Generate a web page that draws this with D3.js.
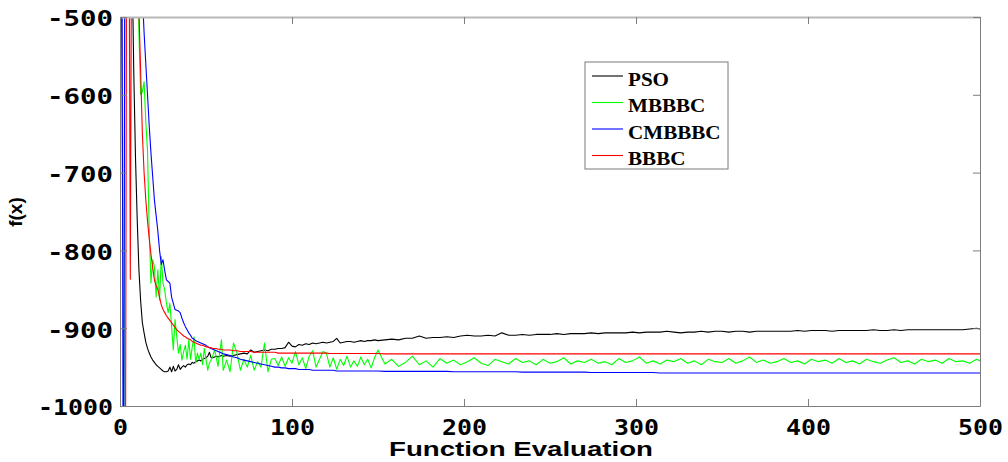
<!DOCTYPE html>
<html>
<head>
<meta charset="utf-8">
<script src="https://cdn.jsdelivr.net/npm/d3@7/dist/d3.min.js"></script>
<style>
  html, body { margin: 0; padding: 0; background: #ffffff; }
  svg { display: block; }
</style>
</head>
<body>
<svg id="chart" width="1008" height="462"></svg>
<script>
// Function-evaluation counter (dense early, coarser once the runs settle)
const evaluations = [
  0,1,2,3,4,5,6,7,8,9,
  10,11,12,13,14,15,16,17,18,19,
  20,21,22,23,24,25,26,27,28,29,
  30,31,32,33,34,35,36,37,38,39,
  40,41,42,43,44,45,46,47,48,49,
  50,51,52,53,54,55,56,57,58,59,
  60,
  62,64,66,68,70,72,74,76,78,80,
  82,84,86,88,90,92,94,96,98,100,
  102,104,106,108,110,112,114,116,118,120,
  122,124,126,128,130,132,134,136,138,140,
  142,144,146,148,150,
  154,158,162,166,170,174,178,182,186,190,
  194,198,202,206,210,214,218,222,226,230,
  234,238,242,246,250,254,258,262,266,270,
  274,278,282,286,290,294,298,302,306,310,
  314,318,322,326,330,334,338,342,346,350,
  354,358,362,366,370,374,378,382,386,390,
  394,398,402,406,410,414,418,422,426,430,
  434,438,442,446,450,454,458,462,466,470,
  474,478,482,486,490,494,498,500
];

// Best f(x) found so far by each optimiser
const psoValues = [
  -200,-200,-200,-200,-200,-200,-200,-420,-570,-680,
  -760,-825,-865,-893,-906,-918,-926,-932,-937,-941,
  -944,-947,-949,-951,-953,-955,-956,-956,-955,-950,
  -956,-949,-955,-953,-947,-953,-950,-948,-950,-947,
  -946,-947,-944,-945,-943,-942,-941,-942,-940,-939,
  -938,-936,-931,-938,-938,-937,-936,-937,-936,-935,
  -936,
  -935,-936,-935,-934,-933,-932,-933,-928,-931,-930,
  -929,-928,-929,-927,-927,-926,-926,-925,-918,-923,
  -924,-921,-922,-920,-921,-919,-920,-919,-918,-919,
  -918,-917,-913,-919,-918,-917,-917,-918,-917,-916,
  -917,-916,-916,-915,-916,
  -915,-914,-915,-913,-913,-910,-913,-912,-912,-911,
  -912,-910,-909,-910,-910,-909,-910,-906,-909,-909,
  -908,-909,-908,-908,-908,-907,-908,-907,-907,-907,
  -906,-907,-906,-906,-906,-906,-905,-906,-905,-905,
  -905,-904,-905,-906,-905,-905,-904,-905,-904,-904,
  -905,-904,-904,-905,-904,-904,-904,-904,-904,-904,
  -903,-904,-903,-903,-903,-904,-903,-903,-903,-903,
  -903,-902,-903,-903,-902,-903,-902,-902,-902,-902,
  -902,-902,-902,-902,-902,-901,-900,-901
];

const mbbbcValues = [
  -1300,-1300,-1300,-200,-200,-200,-200,-200,-200,-200,
  -420,-520,-600,-596,-583,-635,-672,-775,-842,-812,
  -821,-860,-825,-864,-808,-842,-851,-868,-880,-868,
  -898,-928,-889,-911,-932,-921,-941,-930,-922,-940,
  -915,-940,-924,-911,-945,-932,-940,-932,-947,-926,
  -940,-954,-945,-941,-935,-928,-938,-949,-930,-915,
  -954,
  -941,-956,-919,-932,-954,-940,-950,-935,-954,-943,
  -950,-919,-956,-940,-939,-948,-937,-949,-938,-945,
  -930,-947,-938,-952,-936,-929,-950,-940,-930,-932,
  -950,-938,-953,-940,-948,-936,-950,-942,-949,-937,
  -947,-940,-951,-938,-928,
  -946,-940,-949,-944,-936,-947,-942,-950,-939,-945,
  -941,-947,-943,-938,-945,-948,-940,-943,-946,-939,
  -944,-942,-947,-940,-945,-943,-938,-946,-942,-944,
  -940,-945,-943,-947,-939,-944,-942,-937,-945,-942,
  -946,-941,-943,-939,-945,-942,-947,-940,-943,-944,
  -939,-945,-942,-937,-944,-941,-945,-943,-939,-944,
  -942,-946,-940,-943,-941,-945,-939,-944,-942,-946,
  -940,-943,-945,-941,-938,-944,-942,-946,-940,-943,
  -941,-945,-939,-943,-942,-945,-940,-942
];

const cmbbbcValues = [
  -930,-200,-1300,-200,-200,-200,-200,-200,-200,-200,
  -200,-200,-300,-470,-520,-560,-600,-640,-675,-705,
  -735,-755,-775,-800,-818,-812,-826,-838,-840,-842,
  -860,-868,-876,-877,-878,-880,-887,-893,-898,-902,
  -906,-909,-913,-914,-916,-917,-918,-919,-920,-921,
  -922,-924,-925,-926,-927,-928,-929,-930,-931,-932,
  -933,
  -934,-935,-937,-938,-940,-941,-942,-943,-944,-945,
  -946,-947,-948,-949,-950,-950,-951,-951,-952,-952,
  -952,-953,-953,-953,-953,-954,-954,-954,-954,-954,
  -954,-954,-955,-955,-955,-955,-955,-955,-955,-955,
  -955,-955,-955,-955,-955,
  -955.5,-955.5,-955.5,-955.5,-955.5,-955.5,-955.5,-955.5,-955.5,-955.5,
  -956,-956,-956,-956,-956,-956,-956,-956,-956,-956,
  -956.5,-956.5,-956.5,-956.5,-956.5,-956.5,-956.5,-956.5,-956.5,-956.5,
  -957,-957,-957,-957,-957,-957,-957,-957,-957,-957,
  -957.5,-957.5,-957.5,-957.5,-957.5,-957.5,-957.5,-957.5,-957.5,-957.5,
  -957.5,-957.5,-957.5,-957.5,-957.5,-957.5,-957.5,-957.5,-957.5,-957.5,
  -957.5,-957.5,-957.5,-957.5,-957.5,-957.5,-957.5,-957.5,-957.5,-957.5,
  -957.5,-957.5,-957.5,-957.5,-957.5,-957.5,-957.5,-957.5,-957.5,-957.5,
  -957.5,-957.5,-957.5,-957.5,-957.5,-957.5,-957.5,-957.5
];

const bbbcValues = [
  -920,-1300,-1300,-1300,-200,-200,-837,-200,-200,-200,
  -200,-490,-570,-650,-700,-735,-762,-785,-805,-822,
  -838,-845,-850,-860,-870,-876,-880,-884,-887,-890,
  -893,-896,-899,-902,-904,-906,-908,-910,-911,-913,
  -914,-915,-917,-918,-919,-920,-921,-922,-922,-923,
  -924,-924,-925,-925,-926,-926,-926,-927,-927,-927,
  -928,
  -928,-928,-929,-929,-930,-930,-930,-930,-931,-931,
  -931,-931,-931,-931,-931,-932,-932,-932,-932,-932,
  -932,-932,-932,-932,-932,-932,-932,-932,-932,-932,
  -932.5,-932.5,-932.5,-932.5,-932.5,-932.5,-932.5,-932.5,-932.5,-932.5,
  -932.5,-932.5,-932.5,-932.5,-932.5,
  -933,-933,-933,-933,-933,-933,-933,-933,-933,-933,
  -933,-933,-933,-933,-933,-933,-933,-933,-933,-933,
  -933,-933,-933,-933,-933,-933,-933,-933,-933,-933,
  -933,-933,-933,-933,-933,-933,-933,-933,-933,-933,
  -933,-933,-933,-933,-933,-933,-933,-933,-933,-933,
  -933,-933,-933,-933,-933,-933,-933,-933,-933,-933,
  -933,-933,-933,-933,-933,-933,-933,-933,-933,-933,
  -933,-933,-933,-933,-933,-933,-933,-933,-933,-933,
  -933,-933,-933,-933,-933,-933,-933,-933
];

const seriesNames = ["PSO", "MBBBC", "CMBBBC", "BBBC"];
const seriesColors = ["#000000", "#00ff00", "#0000ff", "#ff0000"];
const xTickValues = [0, 100, 200, 300, 400, 500];
const yTickValues = [-500, -600, -700, -800, -900, -1000];

const seriesData = [psoValues, mbbbcValues, cmbbbcValues, bbbcValues];

// Layout
const plot = { left: 120, right: 980, top: 17, bottom: 406 };
const x = d3.scaleLinear().domain([0, 500]).range([plot.left, plot.right]);
const y = d3.scaleLinear().domain([-1000, -500]).range([plot.bottom, plot.top]);

const svg = d3.select("#chart");
svg.append("rect").attr("width", 1008).attr("height", 462).attr("fill", "#ffffff");

svg.append("defs").append("clipPath").attr("id", "plot-clip")
  .append("rect")
  .attr("x", plot.left).attr("y", plot.top)
  .attr("width", plot.right - plot.left).attr("height", plot.bottom - plot.top);

// Convergence curves
const line = d3.line()
  .defined(d => d != null)
  .x((d, i) => x(evaluations[i]))
  .y(d => y(d));

svg.append("g").attr("clip-path", "url(#plot-clip)")
  .selectAll("path")
  .data(seriesData)
  .join("path")
  .attr("d", d => line(d))
  .attr("fill", "none")
  .attr("stroke", (d, i) => seriesColors[i])
  .attr("stroke-width", 1.1)
  .attr("stroke-linejoin", "round");

// Axes: ticks point inward on all four sides
const tickFont = "'DejaVu Sans Mono', 'Liberation Mono', monospace";
const plainNumber = d => String(d);

const bottomAxis = svg.append("g")
  .attr("transform", `translate(0,${plot.bottom})`)
  .call(d3.axisBottom(x).tickValues(xTickValues).tickSizeInner(-7).tickSizeOuter(0).tickPadding(14).tickFormat(plainNumber));

const topAxis = svg.append("g")
  .attr("transform", `translate(0,${plot.top})`)
  .call(d3.axisTop(x).tickValues(xTickValues).tickSizeInner(-7).tickSizeOuter(0).tickFormat(""));

const leftAxis = svg.append("g")
  .attr("transform", `translate(${plot.left},0)`)
  .call(d3.axisLeft(y).tickValues(yTickValues).tickSizeInner(-7).tickSizeOuter(0).tickPadding(7).tickFormat(plainNumber));

const rightAxis = svg.append("g")
  .attr("transform", `translate(${plot.right},0)`)
  .call(d3.axisRight(y).tickValues(yTickValues).tickSizeInner(-7).tickSizeOuter(0).tickFormat(""));

[bottomAxis, leftAxis, rightAxis].forEach(g => {
  g.select(".domain").attr("stroke", "#7d7d7d").attr("stroke-width", 1);
  g.selectAll(".tick line").attr("stroke", "#7d7d7d");
});
topAxis.select(".domain").attr("stroke", "#b8b8b8").attr("stroke-width", 2);
topAxis.selectAll(".tick line").attr("stroke", "#7d7d7d");

[bottomAxis, leftAxis].forEach(g => {
  g.selectAll(".tick text")
    .attr("fill", "#000")
    .style("font-family", tickFont)
    .style("font-weight", "bold")
    .style("font-size", "21px");
});
leftAxis.selectAll(".tick text").attr("dy", "0.42em");

// Widen the tick labels to the chart's broad lettering
bottomAxis.selectAll(".tick text").each(function () {
  const n = this.textContent.length;
  d3.select(this).attr("textLength", n * 15).attr("lengthAdjust", "spacingAndGlyphs");
});
leftAxis.selectAll(".tick text").each(function () {
  const n = this.textContent.length;
  d3.select(this).attr("textLength", n === 4 ? 66 : 75).attr("lengthAdjust", "spacingAndGlyphs");
});

// Axis titles
const titleFont = "'Liberation Sans', Arial, Helvetica, sans-serif";
svg.append("text")
  .attr("x", 389).attr("y", 456)
  .attr("textLength", 264).attr("lengthAdjust", "spacingAndGlyphs")
  .style("font-family", titleFont).style("font-weight", "bold").style("font-size", "20px")
  .text("Function Evaluation");

svg.append("text")
  .attr("transform", "translate(22,212) rotate(-90)")
  .attr("text-anchor", "middle")
  .style("font-family", titleFont).style("font-weight", "bold").style("font-size", "19px")
  .text("f(x)");

// Legend
const legend = svg.append("g");
legend.append("rect")
  .attr("x", 585).attr("y", 62).attr("width", 143).attr("height", 107)
  .attr("fill", "#ffffff").attr("stroke", "#7a7a7a").attr("stroke-width", 1);

const legendRow = 26.5;
const legendItems = legend.selectAll("g.item")
  .data(seriesNames)
  .join("g")
  .attr("class", "item")
  .attr("transform", (d, i) => `translate(0,${76 + i * legendRow})`);

legendItems.append("line")
  .attr("x1", 592).attr("x2", 623).attr("y1", 0).attr("y2", 0)
  .attr("stroke", (d, i) => seriesColors[i]).attr("stroke-width", 1.1);

legendItems.append("text")
  .attr("x", 628).attr("y", 9.5)
  .style("font-family", "'Liberation Serif', 'Times New Roman', Times, serif")
  .style("font-weight", "bold").style("font-size", "19px")
  .text(d => d)
  .each(function () {
    const w = this.getComputedTextLength();
    d3.select(this).attr("textLength", w * 1.11).attr("lengthAdjust", "spacingAndGlyphs");
  });
</script>
</body>
</html>
